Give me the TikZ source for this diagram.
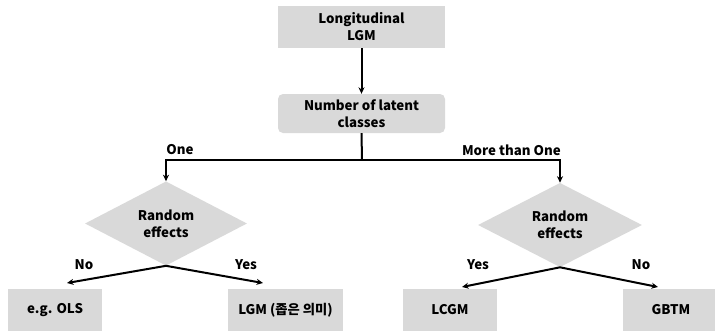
\documentclass[tikz,border=0pt]{standalone}
\usepackage{fontspec}
\setmainfont{Noto Sans CJK KR}
\usetikzlibrary{shapes.geometric,arrows.meta}
\definecolor{boxgray}{HTML}{D9D9D9}
\tikzset{
  box/.style={fill=boxgray, draw=none, inner sep=0pt, align=center, font=\bfseries\fontsize{13.3}{17}\selectfont},
  dec/.style={diamond, fill=boxgray, draw=none, inner sep=0pt, align=center, font=\bfseries\fontsize{13.3}{17}\selectfont},
  conn/.style={line width=2pt, -{Stealth[length=6.5pt,width=6pt]}},
  lbl/.style={font=\bfseries\fontsize{13.3}{15}\selectfont, inner sep=0pt}
}
\begin{document}
\begin{tikzpicture}[x=1pt,y=-1pt]
\useasboundingbox (0,0) rectangle (715,330);
\clip (0,0) rectangle (715,330);
\node[box, minimum width=167pt, minimum height=42pt] (top) at (361.5,27) {Longitudinal\\LGM};
\node[box, rounded corners=5pt, minimum width=167pt, minimum height=39pt] (num) at (361.5,113.5) {Number of latent\\classes};
\node[dec, minimum width=162pt, minimum height=60pt] (d1) at (166,223.5) {Random\\effects};
\node[dec, minimum width=164pt, minimum height=60pt] (d2) at (560,225) {Random\\effects};
\node[box, minimum width=94pt, minimum height=43pt] (ols) at (55,310) {e.g. OLS};
\node[box, minimum width=115pt, minimum height=43pt] (lgm) at (285.5,310) {LGM (좁은 의미)};
\node[box, minimum width=94pt, minimum height=43pt] (lcgm) at (450,310) {LCGM};
\node[box, minimum width=96pt, minimum height=43pt] (gbtm) at (671,310) {GBTM};
\coordinate (split) at (362,160);
\draw[conn] (top.south) -- (num.north);
\draw[line width=2pt] (num.south) -- (split);
\draw[conn] (split) -| (d1.north);
\draw[conn] (split) -| (d2.north);
\node[lbl] (one) at (180,150) {One};
\node[lbl, anchor=east] (more) at (561,150) {More than One};
\coordinate (t1) at (67,283);
\coordinate (t2) at (263,283);
\coordinate (t3) at (462,287);
\coordinate (t4) at (658,287);
\draw[conn] (d1.south) -- (t1);
\draw[conn] (d1.south) -- (t2);
\draw[conn] (d2.south) -- (t3);
\draw[conn] (d2.south) -- (t4);
\node[lbl] (no1) at (84,265) {No};
\node[lbl] (yes1) at (246,265) {Yes};
\node[lbl] (yes2) at (478,265) {Yes};
\node[lbl] (no2) at (641,265) {No};
\end{tikzpicture}
\end{document}
